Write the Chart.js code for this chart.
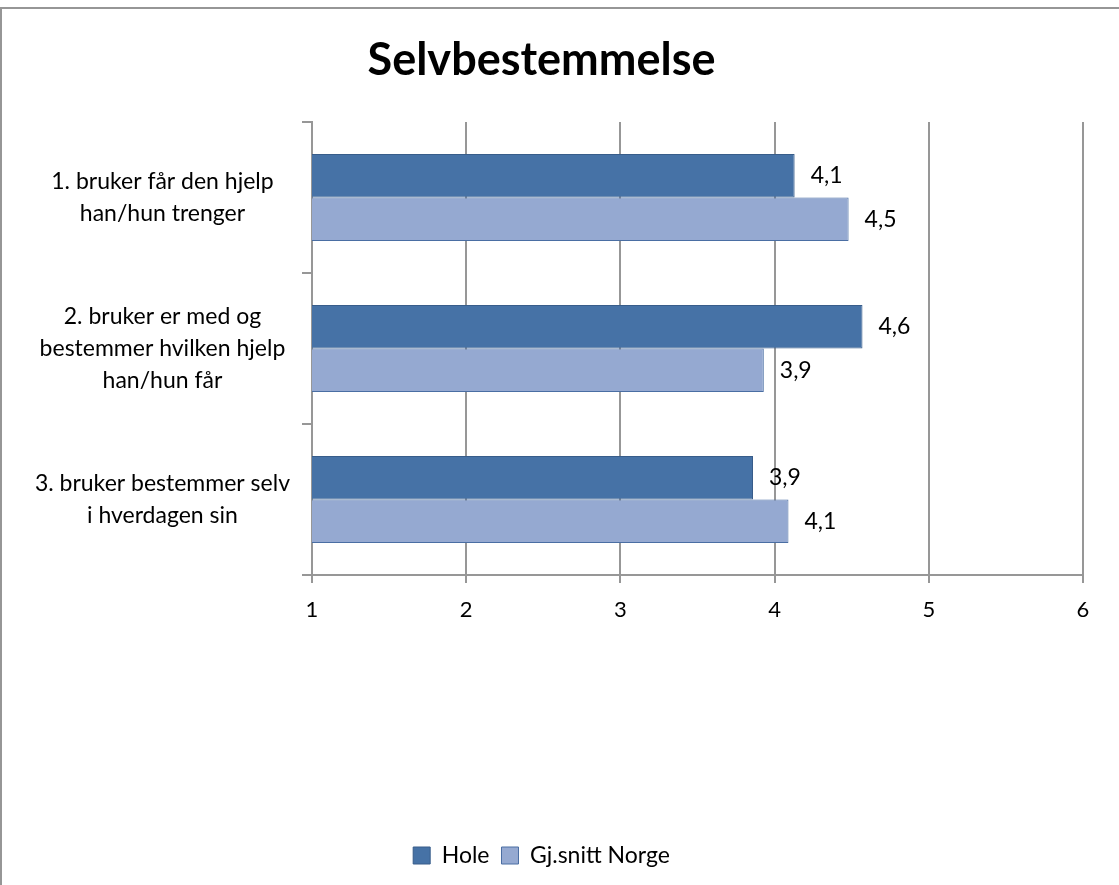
<!DOCTYPE html>
<html>
<head>
<meta charset="utf-8">
<script src="https://cdn.jsdelivr.net/npm/chart.js@4"></script>
<style>
  body { margin: 0; background: #fff; }
  #wrap { position: relative; width: 1119px; height: 885px; overflow: hidden; }
  #frame { position: absolute; left: 0; top: 7px; width: 1200px; height: 1000px; border: 2px solid #969696; pointer-events: none; }
  canvas { position: absolute; left: 0; top: 0; }
</style>
</head>
<body>
<div id="wrap">
  <canvas id="chart" width="1119" height="885"></canvas>
  <div id="frame"></div>
</div>
<script>
// values
const categories = [
  ["1. bruker får den hjelp", "han/hun trenger"],
  ["2. bruker er med og", "bestemmer hvilken hjelp", "han/hun får"],
  ["3. bruker bestemmer selv", "i hverdagen sin"]
];
const holeValues = [4.13, 4.57, 3.86];
const norgeValues = [4.48, 3.93, 4.09];
const seriesNames = ["Hole", "Gj.snitt Norge"];
const xTicks = [1, 2, 3, 4, 5, 6];

const fontFamily = "Lato, 'Open Sans', sans-serif";
const gridColor = "#979797";

// draws the value next to each bar end
const valueLabels = {
  id: "valueLabels",
  afterDatasetsDraw(chart) {
    const ctx = chart.ctx;
    ctx.save();
    ctx.font = "23px " + fontFamily;
    ctx.fillStyle = "#000";
    ctx.textAlign = "left";
    ctx.textBaseline = "middle";
    chart.data.datasets.forEach((ds, i) => {
      chart.getDatasetMeta(i).data.forEach((bar, j) => {
        const txt = ds.data[j].toFixed(1).replace(".", ",");
        ctx.fillText(txt, bar.x + 16, bar.y);
      });
    });
    ctx.restore();
  }
};

new Chart(document.getElementById("chart"), {
  type: "bar",
  data: {
    labels: categories,
    datasets: [
      {
        label: seriesNames[0],
        data: holeValues,
        backgroundColor: "#4672a6",
        borderColor: "#385d8a",
        borderWidth: 1,
        borderSkipped: false
      },
      {
        label: seriesNames[1],
        data: norgeValues,
        backgroundColor: "#95a9d1",
        borderColor: "#4a6ea3",
        borderWidth: 1,
        borderSkipped: false
      }
    ]
  },
  options: {
    indexAxis: "y",
    responsive: false,
    animation: false,
    layout: { padding: { left: 0, right: 36, top: 0, bottom: 8 } },
    datasets: {
      bar: { categoryPercentage: 0.575, barPercentage: 1 }
    },
    scales: {
      x: {
        type: "linear",
        min: 1,
        max: 6,
        afterBuildTicks: (scale) => { scale.ticks = xTicks.map(v => ({ value: v })); },
        afterFit: (scale) => { scale.height = 257; },
        ticks: {
          color: "#000",
          font: { family: fontFamily, size: 22 },
          padding: 14
        },
        grid: { color: gridColor, lineWidth: 2, tickLength: 8 },
        border: { color: gridColor, width: 2 }
      },
      y: {
        afterFit: (scale) => { scale.width = 312; },
        ticks: {
          color: "#000",
          font: { family: fontFamily, size: 23, lineHeight: 1.38 },
          crossAlign: "center",
          padding: 12
        },
        grid: { offset: true, drawOnChartArea: false, color: gridColor, lineWidth: 2, tickLength: 10 },
        border: { color: gridColor, width: 2 }
      }
    },
    plugins: {
      title: {
        display: true,
        text: "Selvbestemmelse",
        color: "#000",
        font: { family: fontFamily, size: 45, weight: "bold", lineHeight: 1.2 },
        padding: { top: 33, bottom: 35 }
      },
      legend: {
        position: "bottom",
        labels: {
          color: "#000",
          font: { family: fontFamily, size: 23 },
          boxWidth: 17,
          boxHeight: 17,
          padding: 12
        }
      },
      tooltip: { enabled: false }
    }
  },
  plugins: [valueLabels]
});
</script>
</body>
</html>
